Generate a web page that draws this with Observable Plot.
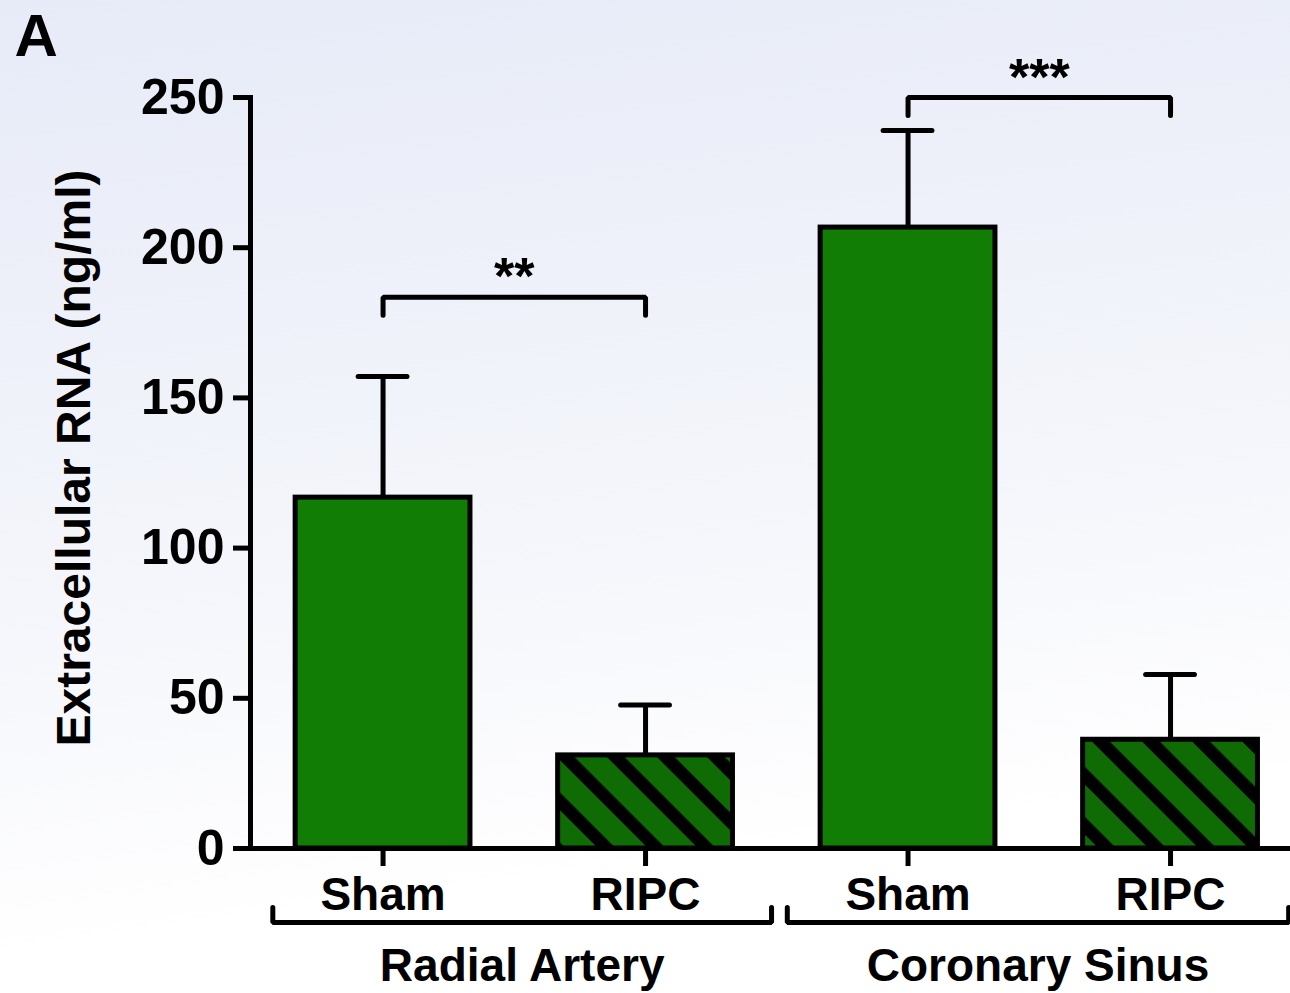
<!DOCTYPE html>
<html>
<head>
<meta charset="utf-8">
<script src="https://cdn.jsdelivr.net/npm/d3@7"></script>
<script src="https://cdn.jsdelivr.net/npm/@observablehq/plot@0.6"></script>
<style>
  html, body { margin: 0; padding: 0; }
  body {
    width: 1290px; height: 993px; overflow: hidden;
    background: linear-gradient(172deg, #e7ebf8 0%, #eef1f9 30%, #f7f8fc 60%, #ffffff 82%);
    font-family: "Liberation Sans", Arial, sans-serif;
  }
</style>
</head>
<body>
<div id="chart"></div>
<script>
// ---- data ----
const conditions = ["Sham", "RIPC", "Sham", "RIPC"];
const sites = ["Radial Artery", "Radial Artery", "Coronary Sinus", "Coronary Sinus"];
const means = [116.8, 31.0, 206.7, 36.2];          // Extracellular RNA (ng/ml)
const errors = [40.3, 16.8, 32.3, 21.7];           // upper error (SEM)
const yTicks = [0, 50, 100, 150, 200, 250];
const groupNames = ["Radial Artery", "Coronary Sinus"];
const groupFrom = [-0.42, 1.54];                    // bracket extent (category units)
const groupTo = [1.48, 3.45];
const sigLabels = ["**", "***"];
const sigFrom = [0, 2];
const sigTo = [1, 3];
const sigLevel = [183.5, 250];

// ---- tables built from the arrays ----
const rows = conditions.map((c, i) => ({i, condition: c, site: sites[i], mean: means[i], err: errors[i]}));
const groups = groupNames.map((name, k) => ({name, from: groupFrom[k], to: groupTo[k]}));
const sigs = sigLabels.map((label, k) => ({label, from: sigFrom[k], to: sigTo[k], level: sigLevel[k]}));

const tip = 6; // bracket tip length (y units)
const sigPath = sigs.flatMap(s => [
  {z: s.label, x: s.from, y: s.level - tip},
  {z: s.label, x: s.from, y: s.level},
  {z: s.label, x: s.to, y: s.level},
  {z: s.label, x: s.to, y: s.level - tip}
]);
const groupPath = groups.flatMap(g => [
  {z: g.name, x: g.from, y: 5},
  {z: g.name, x: g.from, y: 0},
  {z: g.name, x: g.to, y: 0},
  {z: g.name, x: g.to, y: 5}
]);

const shamGreen = "#127d05";
const halfBar = 0.333, halfCap = 0.093, sw = 5;

const chart = Plot.plot({
  width: 1290,
  height: 993,
  marginLeft: 250,
  marginRight: 0,
  marginTop: 97,
  marginBottom: 145,
  style: {background: "transparent", fontFamily: "Liberation Sans, Arial, sans-serif", color: "#000", overflow: "visible"},
  x: {type: "linear", domain: [-0.505, 3.457], axis: null},
  y: {domain: [0, 250], axis: null},
  marks: [
    Plot.rectY(rows, {filter: d => d.condition === "Sham", x1: d => d.i - halfBar, x2: d => d.i + halfBar, y: "mean",
      fill: shamGreen, stroke: "#000", strokeWidth: sw}),
    Plot.rectY(rows, {filter: d => d.condition === "RIPC", x1: d => d.i - halfBar, x2: d => d.i + halfBar, y: "mean",
      fill: "url(#hatch)", stroke: "#000", strokeWidth: sw}),
    Plot.ruleX(rows, {x: "i", y1: "mean", y2: d => d.mean + d.err, stroke: "#000", strokeWidth: sw}),
    Plot.ruleY(rows, {y: d => d.mean + d.err, x1: d => d.i - halfCap, x2: d => d.i + halfCap, stroke: "#000", strokeWidth: sw, strokeLinecap: "round"}),
    Plot.frame({anchor: "left", stroke: "#000", strokeWidth: sw}),
    Plot.ruleY([0], {stroke: "#000", strokeWidth: sw}),
    Plot.axisY({ticks: yTicks, tickSize: 17, tickPadding: 9, fontSize: 50, fontWeight: "bold", strokeWidth: sw, label: null}),
    Plot.axisX({ticks: [0, 1, 2, 3], tickFormat: i => conditions[i], tickSize: 18, tickPadding: 11, fontSize: 46, fontWeight: "bold", strokeWidth: sw, label: null}),
    // significance brackets
    Plot.line(sigPath, {x: "x", y: "y", z: "z", stroke: "#000", strokeWidth: sw, strokeLinejoin: "miter", strokeLinecap: "round", curve: "linear"}),
    Plot.text(sigs, {x: d => (d.from + d.to) / 2, y: "level", text: "label", lineAnchor: "bottom", dy: -3, fontSize: 52, fontWeight: "bold"}),
    // group brackets and labels below the axis
    Plot.line(groupPath, {x: "x", y: "y", z: "z", dy: 74, stroke: "#000", strokeWidth: sw, strokeLinejoin: "miter", strokeLinecap: "round"}),
    Plot.text(groups, {x: d => (d.from + d.to) / 2, text: "name", frameAnchor: "bottom", dy: 132, lineAnchor: "bottom", fontSize: 46, fontWeight: "bold"}),
    // y axis title
    Plot.text(["Extracellular RNA (ng/ml)"], {frameAnchor: "left", rotate: -90, dx: -176, dy: -15, fontSize: 48, fontWeight: "bold", textAnchor: "middle"}),
    // panel letter
    Plot.text(["A"], {frameAnchor: "top-left", dx: -236, dy: -84, lineAnchor: "top", textAnchor: "start", fontSize: 60, fontWeight: "bold"})
  ]
});

const svg = d3.select(chart);
const defs = svg.insert("defs", ":first-child");
const P = 35.4;
const pat = defs.append("pattern")
  .attr("id", "hatch")
  .attr("patternUnits", "userSpaceOnUse")
  .attr("width", P).attr("height", P)
  .attr("patternTransform", "rotate(-45)");
pat.append("rect").attr("width", P).attr("height", P).attr("fill", "#0f6b03");
pat.append("rect").attr("width", 12.5).attr("height", P).attr("fill", "#000");

document.getElementById("chart").appendChild(chart);
</script>
</body>
</html>
